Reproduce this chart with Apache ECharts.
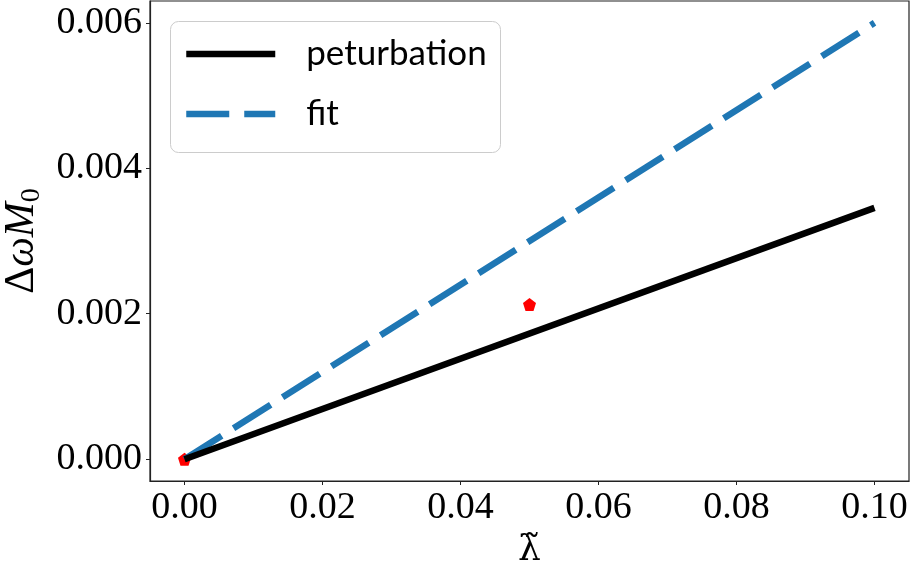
<!DOCTYPE html>
<html>
<head>
<meta charset="utf-8">
<script src="https://cdn.jsdelivr.net/npm/echarts@6/dist/echarts.min.js"></script>
<style>html,body{margin:0;padding:0;background:#fff}#c{width:912px;height:563px}</style>
</head>
<body>
<div id="c"></div>
<script>
const lambdaX = [0, 0.1];
const perturbation = [0, 0.003456];
const fit = [0, 0.006];
const pointsX = [0, 0.05];
const pointsY = [0, 0.002127];
const xTicks = [0, 0.02, 0.04, 0.06, 0.08, 0.10];
const yTicks = [0, 0.002, 0.004, 0.006];

const chart = echarts.init(document.getElementById('c'));
const pent = 'path://M0,-1 L0.951,-0.309 L0.588,0.809 L-0.588,0.809 L-0.951,-0.309 Z';
const serif = 'Liberation Serif';
chart.setOption({
  animation: false,
  backgroundColor: '#fff',
  grid: {left: 150, right: 3, top: 1, bottom: 82, show: true, borderColor: '#222', borderWidth: 1.2, outerBoundsMode: 'none', containLabel: false},
  xAxis: {
    type: 'value', min: -0.005, max: 0.105,
    axisLine: {onZero: false, lineStyle: {color: '#222', width: 1.2}},
    axisTick: {show: true, length: 4, customValues: xTicks, lineStyle: {color: '#222'}},
    axisLabel: {customValues: xTicks, fontFamily: serif, fontSize: 38, color: '#000', margin: 8,
      formatter: v => v.toFixed(2)},
    splitLine: {show: false},
    name: 'λ̃', nameLocation: 'middle', nameGap: 52,
    nameTextStyle: {fontFamily: 'DejaVu Serif', fontSize: 36, color: '#000'}
  },
  yAxis: {
    type: 'value', min: -0.0003, max: 0.0063,
    axisLine: {onZero: false, lineStyle: {color: '#222', width: 1.2}},
    axisTick: {show: true, length: 4, customValues: yTicks, lineStyle: {color: '#222'}},
    axisLabel: {customValues: yTicks, fontFamily: serif, fontSize: 38, color: '#000', margin: 8,
      formatter: v => v.toFixed(3)},
    splitLine: {show: false},
    name: '{d|Δ}{i|ωM}{s|0}', nameLocation: 'middle', nameGap: 94, nameRotate: 90,
    nameTextStyle: {
      rich: {
        d: {fontFamily: serif, fontSize: 42, color: '#000', lineHeight: 48},
        i: {fontFamily: serif, fontStyle: 'italic', fontSize: 42, color: '#000', lineHeight: 48},
        s: {fontFamily: serif, fontSize: 28, color: '#000', lineHeight: 48, verticalAlign: 'bottom', padding: [16, 0, 0, 0]}
      }
    }
  },
  legend: {
    orient: 'vertical', left: 183, top: 34, padding: 0,
    itemWidth: 89, itemHeight: 14, itemGap: 20,
    textStyle: {fontFamily: 'Lato', fontSize: 35, color: '#000', lineHeight: 40, padding: [0, 0, 0, 26]},
    itemStyle: {opacity: 0, borderWidth: 0},
    data: [
      {name: 'peturbation', itemStyle: {opacity: 0}, lineStyle: {width: 6.5, color: '#000', type: 'solid', cap: 'butt'}},
      {name: 'fit', itemStyle: {opacity: 0}, lineStyle: {width: 6.5, color: '#1f77b4', type: [43, 15], cap: 'butt'}}
    ]
  },
  graphic: [{
    type: 'rect', left: 170, top: 21, z: -1, silent: true,
    shape: {width: 330, height: 131, r: 8},
    style: {fill: '#fff', stroke: '#cccccc', lineWidth: 1}
  }],
  series: [
    {name: 'points', type: 'scatter', z: 1, symbol: pent, symbolSize: 13,
      itemStyle: {color: '#ff0000', opacity: 1},
      data: pointsX.map((x, i) => [x, pointsY[i]])},
    {name: 'peturbation', type: 'line', z: 3, symbol: 'none',
      lineStyle: {color: '#000', width: 6.5, cap: 'butt'}, itemStyle: {color: '#000'},
      data: lambdaX.map((x, i) => [x, perturbation[i]])},
    {name: 'fit', type: 'line', z: 2, symbol: 'none',
      lineStyle: {color: '#1f77b4', width: 6.5, type: [44, 14], cap: 'butt'}, itemStyle: {color: '#1f77b4'},
      data: lambdaX.map((x, i) => [x, fit[i]])}
  ]
});
</script>
</body>
</html>
